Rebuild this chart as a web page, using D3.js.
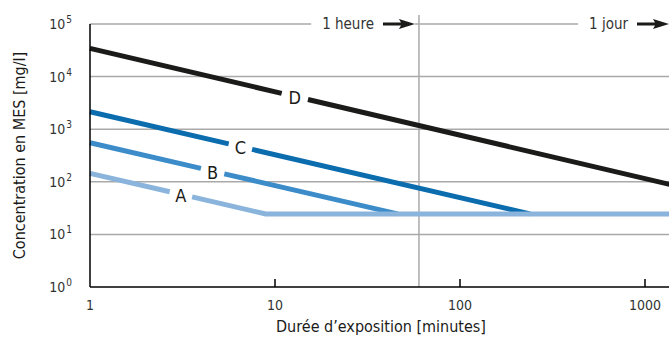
<!DOCTYPE html>
<html>
<head>
<meta charset="utf-8">
<script src="https://cdn.jsdelivr.net/npm/d3@7"></script>
<style>
  body { margin: 0; background: #fff; }
  svg { display: block; font-family: 'Liberation Sans Narrow', 'DejaVu Sans Condensed', sans-serif; }
</style>
</head>
<body>
<svg width="669" height="338"></svg>
<script>
(function (d3) {
  'use strict';

  // minutes on x, concentration (mg/l) on y
  const xTicks = [1, 10, 100, 1000];
  const yExponents = [0, 1, 2, 3, 4, 5];
  const seriesNames = ['D', 'C', 'B', 'A'];
  const seriesA = [[1, 145], [8.9, 24.5], [1440, 24.5]];
  const seriesB = [[1, 553], [46, 24.5]];
  const seriesC = [[1, 2150], [239, 24.5]];
  const seriesD = [[1, 34500], [1440, 85]];
  const labelMinutes = [12.8, 6.5, 4.6, 3.1]; // where the letter sits on each line
  const markers = [{ text: '1 heure', minutes: 60 }, { text: '1 jour', minutes: 1440 }];

  const seriesData = { A: seriesA, B: seriesB, C: seriesC, D: seriesD };
  const colors = { A: '#8ab4db', B: '#3b8cc8', C: '#0b6cae', D: '#1b1b19' };
  const gaps = { A: 23, B: 24, C: 24, D: 27 };

  const svg = d3.select('svg');
  const width = 669;
  const height = 338;
  const margin = { top: 24, left: 90, bottom: 51 };

  const x = d3.scaleLog().domain([1, 1440]).range([margin.left, margin.left + 185 * Math.log10(1440)]);
  const y = d3.scaleLog().domain([1, 1e5]).range([height - margin.bottom, margin.top]);

  const grid = svg.append('g');
  // horizontal grid
  grid.selectAll('line.h').data(yExponents.slice(1))
    .enter().append('line')
      .attr('class', 'h')
      .attr('x1', x(1)).attr('x2', width)
      .attr('y1', e => y(Math.pow(10, e))).attr('y2', e => y(Math.pow(10, e)))
      .attr('stroke', '#a9a9a9').attr('stroke-width', 1.5);

  // 1 heure vertical
  grid.append('line')
    .attr('x1', x(60)).attr('x2', x(60))
    .attr('y1', 15).attr('y2', y(1))
    .attr('stroke', '#a9a9a9').attr('stroke-width', 1.5);

  // series lines
  const lineGen = d3.line().x(d => x(d[0])).y(d => y(d[1]));
  const seriesG = svg.append('g');
  seriesNames.forEach((name, i) => {
    const data = seriesData[name];
    const path = seriesG.append('path')
      .attr('d', lineGen(data))
      .attr('fill', 'none')
      .attr('stroke', colors[name])
      .attr('stroke-width', 5);

    const p0 = [x(data[0][0]), y(data[0][1])];
    const p1 = [x(data[1][0]), y(data[1][1])];
    const lx = x(labelMinutes[i]);
    const f = (lx - p0[0]) / (p1[0] - p0[0]);
    const ly = p0[1] + f * (p1[1] - p0[1]);
    const dist = Math.hypot(lx - p0[0], ly - p0[1]);
    const total = path.node().getTotalLength();
    const g = gaps[name];
    path.attr('stroke-dasharray', `${dist - g / 2} ${g} ${total}`);

    seriesG.append('text')
      .attr('x', lx).attr('y', ly + 1)
      .attr('text-anchor', 'middle')
      .attr('dominant-baseline', 'central')
      .attr('font-size', 18)
      .attr('fill', '#1b1b19')
      .text(name);
  });

  // top markers: "1 heure ->", "1 jour ->"
  const topG = svg.append('g');
  markers.forEach(m => {
    const tip = Math.min(x(m.minutes) - 4, width);
    const bg = topG.append('rect')
      .attr('y', y(1e5) - 6)
      .attr('height', 12)
      .attr('fill', '#fff');
    topG.append('path')
      .attr('d', `M${tip - 32},${y(1e5) - 1.5}H${tip - 14}L${tip - 16},${y(1e5) - 5}L${tip},${y(1e5)}L${tip - 16},${y(1e5) + 5}L${tip - 14},${y(1e5) + 1.5}H${tip - 32}Z`)
      .attr('fill', '#1b1b19');
    const t = topG.append('text')
      .attr('x', tip - 41).attr('y', y(1e5))
      .attr('text-anchor', 'end')
      .attr('dominant-baseline', 'central')
      .attr('font-size', 15)
      .attr('fill', '#333')
      .text(m.text);
    const tw = t.node().getComputedTextLength();
    bg.attr('x', tip - 41 - tw - 11).attr('width', tw + 52);
  });

  // axes
  const axisG = svg.append('g');
  axisG.append('line')
    .attr('x1', x(1)).attr('x2', x(1))
    .attr('y1', y(1e5)).attr('y2', y(1))
    .attr('stroke', '#000').attr('stroke-width', 1.5);
  axisG.append('line')
    .attr('x1', x(1)).attr('x2', width)
    .attr('y1', y(1)).attr('y2', y(1))
    .attr('stroke', '#000').attr('stroke-width', 1.5);

  axisG.selectAll('line.tick').data(xTicks.slice(1))
    .enter().append('line')
      .attr('class', 'tick')
      .attr('x1', d => x(d)).attr('x2', d => x(d))
      .attr('y1', y(1)).attr('y2', y(1) - 8)
      .attr('stroke', '#000').attr('stroke-width', 1.5);

  axisG.selectAll('text.xt').data(xTicks)
    .enter().append('text')
      .attr('class', 'xt')
      .attr('x', d => x(d)).attr('y', y(1) + 18)
      .attr('text-anchor', 'middle')
      .attr('dominant-baseline', 'central')
      .attr('font-size', 14)
      .attr('fill', '#333')
      .text(d => d);

  const yt = axisG.selectAll('text.yt').data(yExponents)
    .enter().append('text')
      .attr('class', 'yt')
      .attr('x', 72).attr('y', e => y(Math.pow(10, e)) + 5)
      .attr('text-anchor', 'end')
      .attr('font-size', 14)
      .attr('fill', '#333');
  yt.append('tspan').text('10');
  yt.append('tspan')
    .attr('dx', 1).attr('dy', -6)
    .attr('font-size', 10)
    .text(e => e);

  // titles
  svg.append('text')
    .attr('x', 381).attr('y', 326)
    .attr('text-anchor', 'middle')
    .attr('dominant-baseline', 'central')
    .attr('font-size', 16)
    .attr('fill', '#1b1b19')
    .text('Durée d’exposition [minutes]');

  svg.append('text')
    .attr('transform', `translate(19,${(y(1) + y(1e5)) / 2}) rotate(-90)`)
    .attr('text-anchor', 'middle')
    .attr('dominant-baseline', 'central')
    .attr('font-size', 16)
    .attr('fill', '#1b1b19')
    .text('Concentration en MES [mg/l]');

}(d3));
</script>
</body>
</html>
